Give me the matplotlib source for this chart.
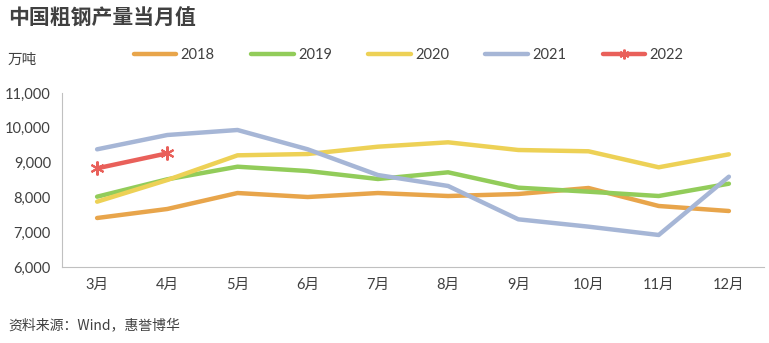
import matplotlib.pyplot as plt
from matplotlib.ticker import FuncFormatter

plt.rcParams["font.family"] = ["Lato", "Noto Sans CJK SC", "DejaVu Sans"]

MONTHS = ["3月", "4月", "5月", "6月", "7月", "8月", "9月", "10月", "11月", "12月"]

Y2018 = [7408, 7667, 8126, 8011, 8126, 8040, 8098, 8270, 7753, 7609]
Y2019 = [8020, 8520, 8882, 8758, 8529, 8721, 8279, 8164, 8040, 8394]
Y2020 = [7877, 8500, 9209, 9247, 9457, 9583, 9362, 9325, 8865, 9238]
Y2021 = [9382, 9793, 9937, 9382, 8643, 8328, 7370, 7159, 6920, 8595]
Y2022 = [8836, 9267]

SERIES = [
    ("2018", Y2018, "#E8A54B"),
    ("2019", Y2019, "#92CC5A"),
    ("2020", Y2020, "#EDD156"),
    ("2021", Y2021, "#A6B6D6"),
]

fig = plt.figure(figsize=(7.69, 3.43), dpi=100)
ax = fig.add_axes([62 / 769, 1 - 267 / 343, 702 / 769, 174 / 343])

xs = range(len(MONTHS))
handles = []
for label, ys, color in SERIES:
    (h,) = ax.plot(xs, ys, color=color, lw=3.2, solid_capstyle="round", label=label)
    handles.append(h)
# asterisk marker like the excel star
(h,) = ax.plot(range(len(Y2022)), Y2022, color="#E9605A", lw=3.2, marker=(6, 2, 0),
               markersize=10, markeredgewidth=1.5, solid_capstyle="round", label="2022")
handles.append(h)

ax.set_xlim(-0.5, len(MONTHS) - 0.5)
ax.set_ylim(6000, 11000)
ax.set_yticks(range(6000, 11001, 1000))
ax.yaxis.set_major_formatter(FuncFormatter(lambda v, p: f"{int(v):,}"))
ax.set_xticks(list(xs))
ax.set_xticklabels(MONTHS)
ax.tick_params(length=0, labelsize=10.5, colors="#404040", pad=8)
for side in ["top", "right"]:
    ax.spines[side].set_visible(False)
for side in ["left", "bottom"]:
    ax.spines[side].set_color("#C0C0C0")

fig.text(8 / 769, 1 - 18 / 343, "中国粗钢产量当月值", fontsize=15, fontweight="bold",
         color="#404040", va="center", family=["Noto Sans CJK SC"])
fig.text(8 / 769, 1 - 60 / 343, "万吨", fontsize=10.5, color="#404040", va="center",
         family=["Noto Sans CJK SC"])
fig.text(8 / 769, 1 - 325 / 343, "资料来源：Wind，惠誉博华", fontsize=10, color="#404040",
         va="center", family=["Noto Sans CJK SC", "DejaVu Sans"])

leg = fig.legend(handles=handles, loc="center left", bbox_to_anchor=(121 / 769, 1 - 55 / 343),
                 ncol=5, frameon=False, handlelength=2.9, handletextpad=0.3,
                 columnspacing=2.5, fontsize=10.5, labelcolor="#404040")
leg.legend_handles[-1].set_markersize(7)

fig.savefig("out.png", dpi=100)
